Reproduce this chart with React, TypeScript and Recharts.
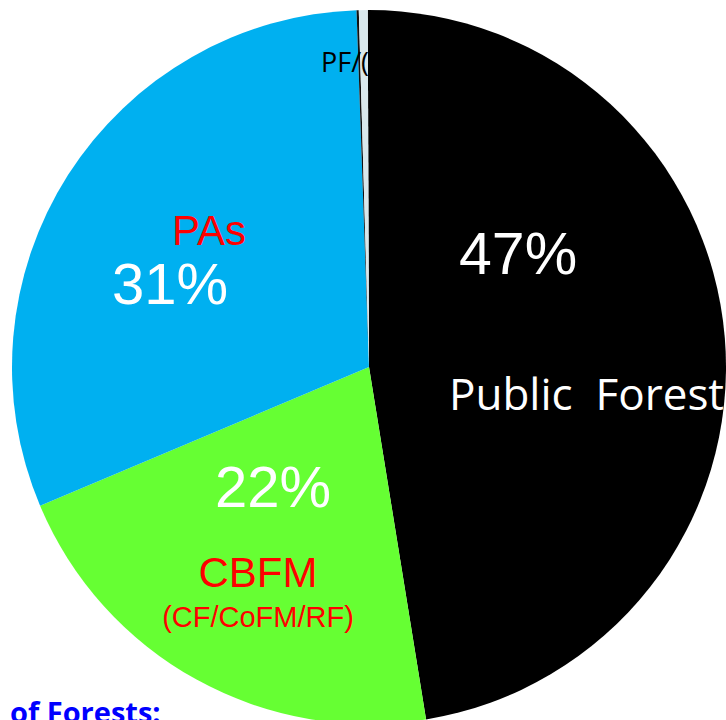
import { PieChart, Pie, Cell } from "recharts"

const categories = ["Public Forest", "CBFM", "PAs", "PF/other", "Other"]
const shares = [47.5, 21.2, 30.8, 0.1, 0.4]
const percentLabels = ["47%", "22%", "31%"]

const COLORS = ["#000000", "#66ff33", "#00b0f0", "#111111", "#d9e8ec"]

const data = categories.map((name, i) => ({ name, value: shares[i] }))

export default function App() {
  return (
    <div style={{ position: "absolute", left: 0, top: 0, width: 726, height: 720, overflow: "hidden", background: "#fff" }}>
      <PieChart width={726} height={720} margin={{ top: 0, right: 0, bottom: 0, left: 0 }}>
        <Pie
          data={data}
          dataKey="value"
          cx={369}
          cy={367}
          outerRadius={357}
          startAngle={90.2}
          endAngle={-269.8}
          stroke="none"
          isAnimationActive={false}
        >
          {data.map((entry, index) => (
            <Cell key={`cell-${index}`} fill={COLORS[index]} />
          ))}
        </Pie>
      </PieChart>
      <svg width={726} height={720} style={{ position: "absolute", left: 0, top: 0, pointerEvents: "none" }}>
        <g fontFamily="'Liberation Sans', Arial, sans-serif">
          <text x={459} y={274} fontSize={59} fill="#fff">{percentLabels[0]}</text>
          <text x={112} y={304} fontSize={58} fill="#fff">{percentLabels[2]}</text>
          <text x={215} y={507} fontSize={58} fill="#fff">{percentLabels[1]}</text>
          <text x={172} y={245} fontSize={42} fill="#ff0000">{categories[2]}</text>
          <text x={258} y={587} fontSize={42} fill="#ff0000" textAnchor="middle">{categories[1]}</text>
          <text x={258} y={627} fontSize={29} fill="#ff0000" textAnchor="middle">(CF/CoFM/RF)</text>
        </g>
        <g fontFamily="'Open Sans', sans-serif">
          <text x={449} y={410} fontSize={44} fill="#fff" style={{ whiteSpace: "pre" }}>{"Public  Forest"}</text>
          <text x={321} y={72} fontSize={27} fill="#000">PF/(</text>
          <text x={10} y={723} fontSize={29} fontWeight="bold" fill="#0000ff">of Forests:</text>
        </g>
      </svg>
    </div>
  )
}
